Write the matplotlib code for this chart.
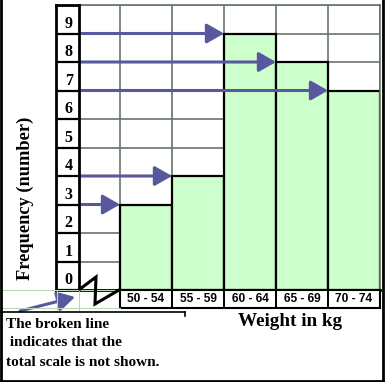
import matplotlib.pyplot as plt
from matplotlib.lines import Line2D
from matplotlib.patches import FancyArrowPatch

# data
categories = ['50 - 54', '55 - 59', '60 - 64', '65 - 69', '70 - 74']
frequency = [3, 4, 9, 8, 7]
row_labels = ['0', '1', '2', '3', '4', '5', '6', '7', '8', '9']

W, H = 385, 382
fig = plt.figure(figsize=(W / 100, H / 100), dpi=100)
fig.patch.set_facecolor('white')

serif = 'Liberation Serif'
sans = 'Liberation Sans'
bar_col = '#ccffcc'
arrow_col = '#58589e'
grid_col = '#687668'


def fx(x):
    return x / W


def fy(y):
    return 1 - y / H


def box(x0, y0, x1, y1):
    return [fx(x0), fy(y1), fx(x1) - fx(x0), fy(y0) - fy(y1)]


# main grid with the bars
ax = fig.add_axes(box(79, 5, 380, 290))
ax.set_xlim(-0.5 - 41 / 52, 4.5)
ax.set_ylim(0, 10)
xs = list(range(len(categories)))
ax.bar(xs, frequency, width=1.0, color=bar_col, edgecolor='black', linewidth=1.6, zorder=2)
ax.set_xticks([x - 0.5 for x in xs] + [4.5])
ax.set_yticks(range(0, 11))
ax.grid(True, color=grid_col, linewidth=1.2, zorder=1)
ax.tick_params(length=0, labelbottom=False, labelleft=False)
for s in ax.spines.values():
    s.set_color(grid_col)
    s.set_linewidth(1.2)
ax.spines['bottom'].set_color('black')
ax.spines['bottom'].set_linewidth(2)

# arrows from the frequency scale to each bar top
x_start = ax.get_xlim()[0]
for x, v in zip(xs, frequency):
    ax.annotate('', xy=(x - 0.5, v), xytext=(x_start, v),
                arrowprops=dict(arrowstyle='-|>,head_length=1.05,head_width=0.6',
                                color=arrow_col, lw=2.2, shrinkA=0, shrinkB=0,
                                mutation_scale=10),
                zorder=4, annotation_clip=False)

# frequency label column
lax = fig.add_axes(box(56, 5, 79, 290))
lax.set_xlim(0, 1)
lax.set_ylim(0, 10)
lax.set_yticks(range(0, 11))
lax.set_xticks([])
lax.grid(True, axis='y', color='black', linewidth=1.6)
lax.tick_params(length=0, labelleft=False)
for s in lax.spines.values():
    s.set_color('black')
    s.set_linewidth(2)
for i, lab in enumerate(row_labels):
    lax.text(0.55, i + 0.35, lab, ha='center', va='center', fontsize=11.5,
             fontfamily=serif, fontweight='bold')

# category label row
tax = fig.add_axes(box(120, 290, 380, 308))
tax.set_xlim(-0.5, 4.5)
tax.set_ylim(0, 1)
tax.set_xticks([x + 0.5 for x in xs[:-1]])
tax.set_yticks([])
tax.grid(True, axis='x', color='black', linewidth=1.4)
tax.tick_params(length=0, labelbottom=False)
for s in tax.spines.values():
    s.set_color('black')
    s.set_linewidth(1.5)
for x, lab in zip(xs, categories):
    tax.text(x, 0.5, lab, ha='center', va='center', fontsize=8.6,
             fontfamily=sans, fontweight='bold')

# faint sheet lines in the lower left corner
for seg in [((0, 290), (56, 290)), ((56, 290), (120, 290)), ((57, 290), (57, 310)),
            ((79, 290), (79, 310)), ((0, 308), (120, 308))]:
    (x0, y0), (x1, y1) = seg
    fig.add_artist(Line2D([fx(x0), fx(x1)], [fy(y0), fy(y1)], color='#b8d8b8', lw=0.8))

# broken scale zigzag
zz_x = [80, 96, 95, 119]
zz_y = [289, 277, 304, 290]
fig.add_artist(Line2D([fx(v) for v in zz_x], [fy(v) for v in zz_y], color='black', lw=2.2,
                      solid_joinstyle='miter'))

# axis titles
fig.text(fx(25), fy(198), 'Frequency (number)', rotation=90, ha='center', va='center',
         fontsize=13.2, fontfamily=serif, fontweight='bold')
fig.text(fx(290), fy(321), 'Weight in kg', ha='center', va='center',
         fontsize=13.8, fontfamily=serif, fontweight='bold')

# note box
fig.add_artist(Line2D([fx(0), fx(185)], [fy(312), fy(312)], color='black', lw=1.2))
fig.add_artist(Line2D([fx(185), fx(185)], [fy(312), fy(316)], color='black', lw=1.2))
note = ['The broken line', ' indicates that the', 'total scale is not shown.']
for k, line in enumerate(note):
    fig.text(fx(6), fy(324 + k * 19), line, ha='left', va='center', fontsize=11,
             fontfamily=serif, fontweight='bold')
fig.add_artist(FancyArrowPatch(
    (fx(20), fy(311)), (fx(75), fy(297)), transform=fig.transFigure,
    arrowstyle='-|>,head_length=1.05,head_width=0.6', color=arrow_col, lw=2.2,
    mutation_scale=10, shrinkA=0, shrinkB=0))

# outer frame
for seg in [((1, 0), (1, 381)), ((0, 381), (384, 381)), ((383, 0), (383, 381))]:
    (x0, y0), (x1, y1) = seg
    fig.add_artist(Line2D([fx(x0), fx(x1)], [fy(y0), fy(y1)], color='black', lw=2))

fig.savefig('out.png', dpi=100)
